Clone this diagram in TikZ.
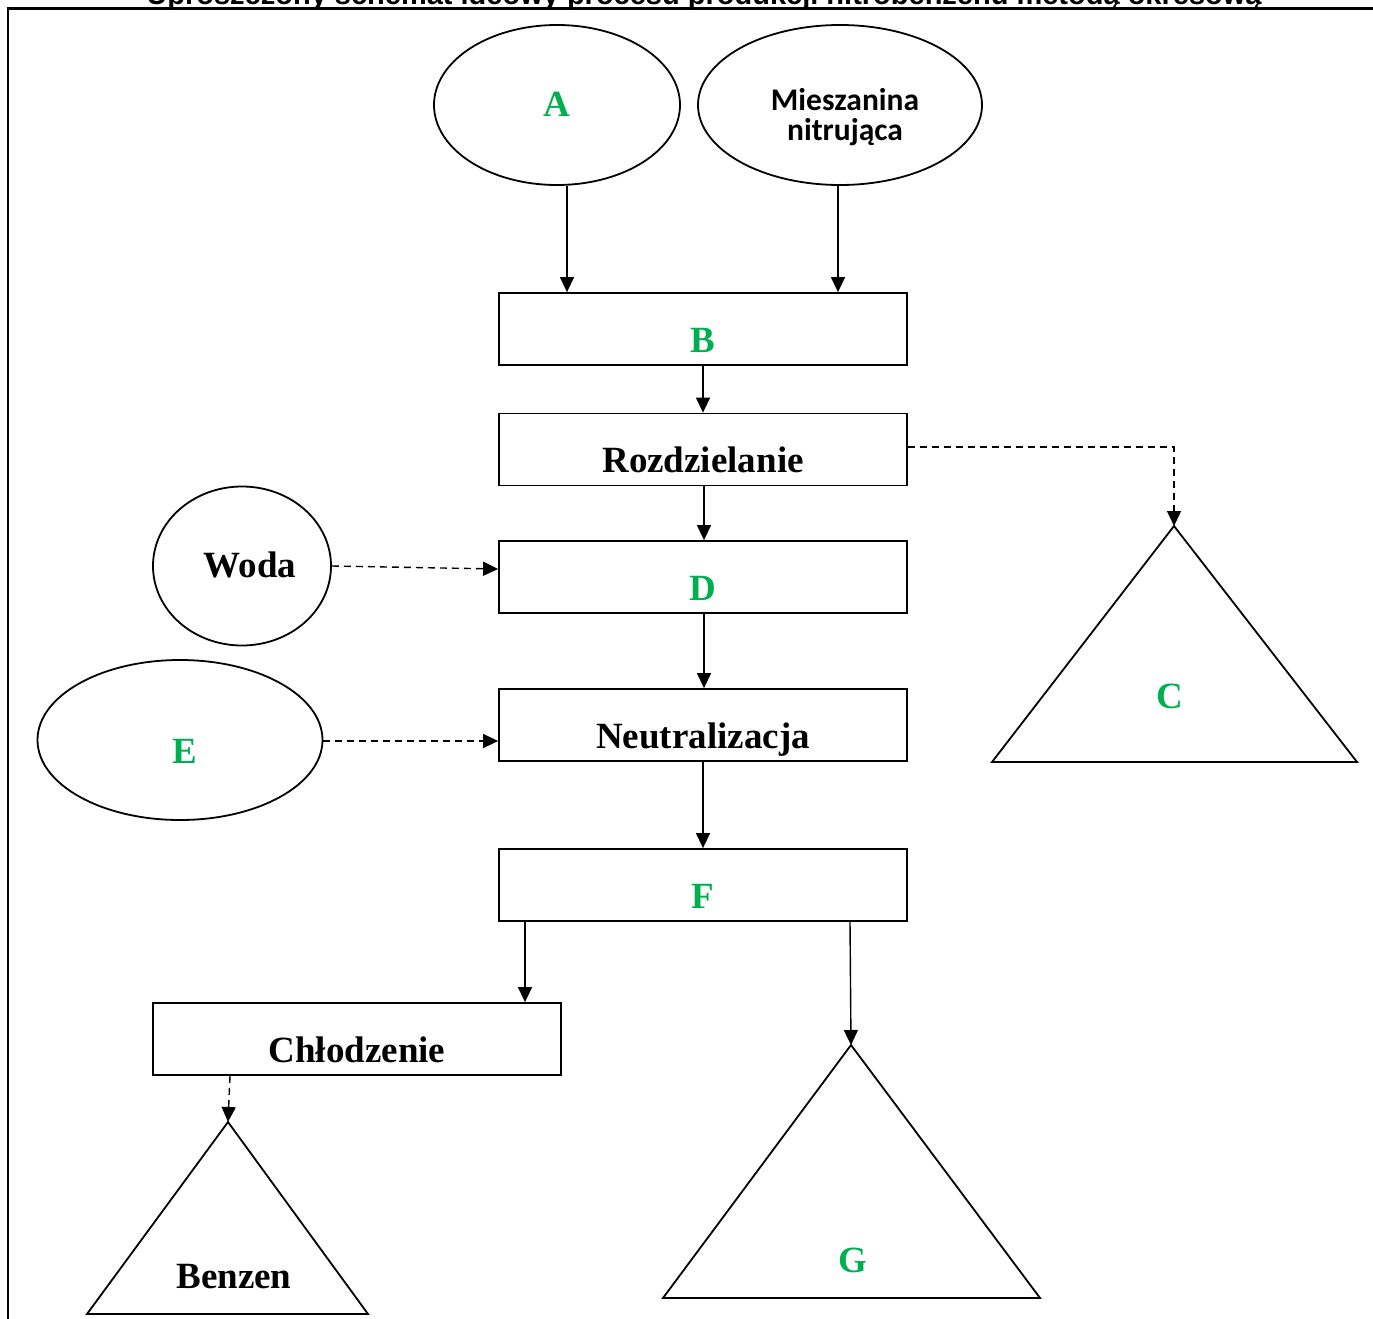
\documentclass[tikz,border=0pt]{standalone}
\usepackage{fontspec}
\setmainfont{Liberation Serif}
\newfontfamily\carl{Carlito}
\newfontfamily\arialf{Liberation Sans}
\usetikzlibrary{shapes.geometric,arrows.meta}
\definecolor{grn}{RGB}{0,176,80}
\begin{document}
\begin{tikzpicture}[x=1pt,y=-1pt,
  proc/.style={draw, rectangle, line width=1.8pt, minimum width=408pt, minimum height=72pt, inner sep=0pt},
  src/.style={draw, ellipse, line width=1.8pt, inner sep=0pt},
  tri/.style={draw, line width=1.8pt, line join=miter},
  arr/.style={line width=1.4pt, -{Triangle[width=14pt,length=15pt]}},
  darr/.style={arr, dash pattern=on 7pt off 5pt},
  big/.style={font=\fontsize{37}{40}\selectfont\bfseries, inner sep=0pt, anchor=base},
  gbig/.style={big, text=grn},
  sans/.style={font=\carl\bfseries\fontsize{31.5}{31.5}\selectfont, inner sep=0pt, anchor=base}
]
\useasboundingbox (0,0) rectangle (1373,1319);
\clip (0,0) rectangle (1373,1319);

% title (cut off at top, as in the reference) and frame
\node[font=\arialf\bfseries\fontsize{29}{32}\selectfont, anchor=base, inner sep=0pt] (title) at (704,5)
  {Uproszczony schemat ideowy procesu produkcji nitrobenzenu metodą okresową};
\draw[line width=2.4pt] (1373,8.5) -- (8,8.5) -- (8,1319);

% sources
\node[src, minimum width=246pt, minimum height=160pt] (A) at (557,105) {};
\node[gbig] (Atxt) at (557,117) {A};
\node[src, minimum width=284pt, minimum height=160pt] (M) at (840,105) {};
\node[sans] (M1) at (845,111) {Mieszanina};
\node[sans] (M2) at (845,141) {nitrująca};
\node[src, minimum width=178pt, minimum height=159pt] (W) at (242,566) {};
\node[big] (Wtxt) at (250,577) {Woda};
\node[src, minimum width=285pt, minimum height=160pt] (E) at (180,740) {};
\node[gbig] (Etxt) at (185,763) {E};

% process boxes
\node[proc] (B) at (703,329) {};
\node[gbig] (Btxt) at ([yshift=-60pt]B.north) {B};
\node[proc] (R) at (703,449.5) {};
\node[big] (Rtxt) at ([yshift=-60pt]R.north) {Rozdzielanie};
\node[proc] (D) at (703,577) {};
\node[gbig] (Dtxt) at ([yshift=-60pt]D.north) {D};
\node[proc] (N) at (703,725) {};
\node[big] (Ntxt) at ([yshift=-60pt]N.north) {Neutralizacja};
\node[proc] (F) at (703,885) {};
\node[gbig] (Ftxt) at ([yshift=-60pt]F.north) {F};
\node[proc] (Ch) at (357,1039) {};
\node[big] (Chtxt) at ([yshift=-60pt]Ch.north) {Chłodzenie};

% products (triangles)
\coordinate (Ctop) at (1174,526);
\draw[tri] (Ctop) -- (1357,762) -- (992,762) -- cycle;
\node[gbig] (Ctxt) at (1170,708) {C};
\coordinate (Gtop) at (851,1045);
\draw[tri] (Gtop) -- (1040,1298) -- (663,1298) -- cycle;
\node[gbig] (Gtxt) at (853,1272) {G};
\coordinate (Bztop) at (228,1122);
\draw[tri] (Bztop) -- (368,1314) -- (87,1314) -- cycle;
\node[big] (Bztxt) at (234,1288) {Benzen};

% connectors
\draw[arr] ([xshift=10pt]A.south) -- ([xshift=10pt]A.south |- B.north);
\draw[arr] ([xshift=-2pt]M.south) -- ([xshift=-2pt]M.south |- B.north);
\draw[arr] (B.south) -- (R.north);
\draw[arr] ([xshift=1pt]R.south) -- ([xshift=1pt]D.north);
\draw[arr] ([xshift=1pt]D.south) -- ([xshift=1pt]N.north);
\draw[arr] (N.south) -- (F.north);
\draw[darr] ([yshift=2.5pt]R.east) -| (Ctop);
\draw[darr] (W.east) -- ([yshift=8pt]D.west);
\draw[darr] ([yshift=-1pt]E.east) -- ([yshift=-16pt]N.west);
\draw[arr] ([xshift=-178pt]F.south) -- ([xshift=-178pt]F.south |- Ch.north);
\draw[arr] ([xshift=147pt]F.south) -- (Gtop);
\draw[darr] ([xshift=-127pt]Ch.south) -- (Bztop);
\end{tikzpicture}
\end{document}
